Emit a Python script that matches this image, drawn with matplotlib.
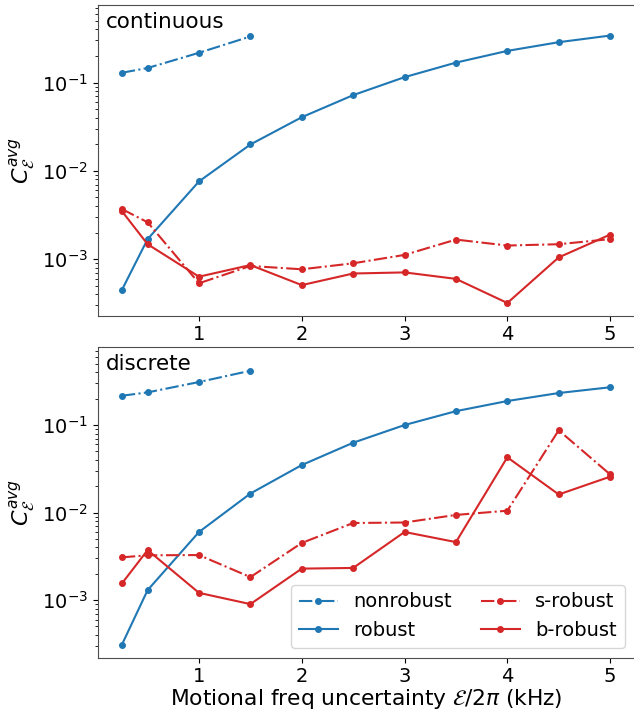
import matplotlib
matplotlib.use("Agg")
import matplotlib.pyplot as plt
import numpy as np

# x values (kHz)
eps = [0.25, 0.5, 1, 1.5, 2, 2.5, 3, 3.5, 4, 4.5, 5]
eps_nr = [0.25, 0.5, 1, 1.5]

# continuous
cont_nonrobust = [0.129, 0.146, 0.217, 0.332]
cont_robust = [4.5e-4, 1.69e-3, 7.6e-3, 0.0199, 0.0405, 0.072, 0.115, 0.168, 0.228, 0.286, 0.34]
cont_srobust = [3.7e-3, 2.62e-3, 5.35e-4, 8.4e-4, 7.7e-4, 9.0e-4, 1.12e-3, 1.67e-3, 1.43e-3, 1.48e-3, 1.69e-3]
cont_brobust = [3.5e-3, 1.48e-3, 6.35e-4, 8.6e-4, 5.1e-4, 6.9e-4, 7.1e-4, 6.0e-4, 3.2e-4, 1.05e-3, 1.9e-3]

# discrete
disc_nonrobust = [0.216, 0.236, 0.31, 0.417]
disc_robust = [3.1e-4, 1.3e-3, 6.0e-3, 0.0165, 0.0349, 0.0628, 0.1, 0.144, 0.188, 0.232, 0.27]
disc_srobust = [3.08e-3, 3.25e-3, 3.27e-3, 1.83e-3, 4.5e-3, 7.6e-3, 7.7e-3, 9.4e-3, 0.0105, 0.087, 0.0273]
disc_brobust = [1.55e-3, 3.73e-3, 1.21e-3, 9.0e-4, 2.29e-3, 2.33e-3, 6.0e-3, 4.6e-3, 0.0428, 0.0161, 0.0257]

blue = '#1f77b4'
red = '#d62728'

fig = plt.figure(figsize=(6.34, 7.10), dpi=100)
ax1 = fig.add_axes([0.1538, 0.5554, 0.847, 0.438])
ax2 = fig.add_axes([0.1538, 0.0737, 0.847, 0.438])

def draw(ax, nr, rb, sr, br, name, ylim):
    ax.plot(eps_nr, nr, '-.', color=blue, marker='o', ms=4, lw=1.5, label='nonrobust')
    ax.plot(eps, rb, '-', color=blue, marker='o', ms=4, lw=1.5, label='robust')
    ax.plot(eps, sr, '-.', color=red, marker='o', ms=4, lw=1.5, label='s-robust')
    ax.plot(eps, br, '-', color=red, marker='o', ms=4, lw=1.5, label='b-robust')
    ax.set_yscale('log')
    ax.set_ylim(*ylim)
    ax.set_xticks([1, 2, 3, 4, 5])
    ax.tick_params(labelsize=14)
    ax.set_ylabel(r'$C_{\mathcal{E}}^{avg}$', fontsize=16)
    ax.text(0.015, 0.975, name, transform=ax.transAxes, fontsize=15.5, va='top', ha='left')
    for s in ax.spines.values():
        s.set_color('0.3')

draw(ax1, cont_nonrobust, cont_robust, cont_srobust, cont_brobust, 'continuous', (2.3e-4, 0.76))
draw(ax2, disc_nonrobust, disc_robust, disc_srobust, disc_brobust, 'discrete', (2.2e-4, 0.785))

ax2.set_xlabel(r'Motional freq uncertainty $\mathcal{E}/2\pi$ (kHz)', fontsize=15.7, labelpad=0.5)
ax2.legend(loc='lower right', ncol=2, fontsize=14, columnspacing=1.5)

fig.savefig('out.png', dpi=100)
